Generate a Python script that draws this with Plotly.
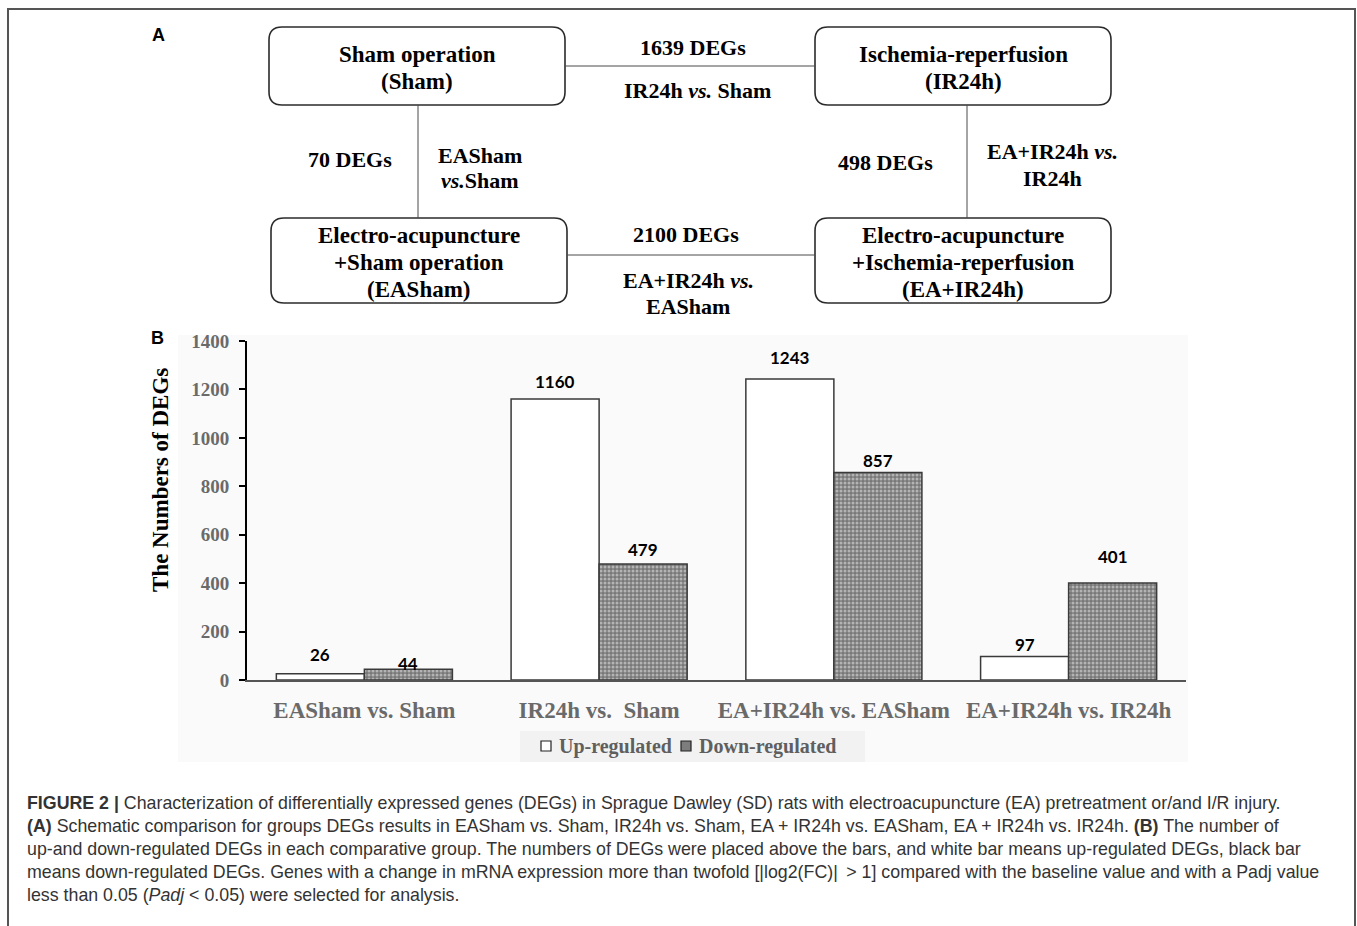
import plotly.graph_objects as go

W, H = 1357, 926

# ---- data -------------------------------------------------------------
comparisons = ["EASham vs. Sham", "IR24h vs.\u00a0 Sham",
               "EA+IR24h vs. EASham", "EA+IR24h vs. IR24h"]
up_regulated = [26, 1160, 1243, 97]
down_regulated = [44, 479, 857, 401]
y_ticks = [0, 200, 400, 600, 800, 1000, 1200, 1400]
series_names = ["Up-regulated", "Down-regulated"]

# panel A: group boxes and the comparison that links each pair
group_lines = {
    "Sham": ["Sham operation", "(Sham)"],
    "IR24h": ["Ischemia-reperfusion", "(IR24h)"],
    "EASham": ["Electro-acupuncture", "+Sham operation", "(EASham)"],
    "EA+IR24h": ["Electro-acupuncture", "+Ischemia-reperfusion", "(EA+IR24h)"],
}

# ---- helpers: pixel -> paper -------------------------------------------
def px(x):
    return x / W


def py(y):
    return 1 - y / H


SERIF = "Liberation Serif, Times New Roman, serif"
SANS = "Liberation Sans, Arial, sans-serif"
GREY_TXT = "#5f5f5f"
EDGE = "#3a3a3a"


def note(text, x, y, size, family=SERIF, color="black", anchor="center", **kw):
    d = dict(x=px(x), y=py(y), xref="paper", yref="paper", text=text,
             showarrow=False, xanchor=anchor, yanchor="middle",
             font=dict(family=family, size=size, color=color))
    d.update(kw)
    return d


fig = go.Figure()

fig.add_trace(go.Bar(
    x=comparisons, y=up_regulated, name=series_names[0],
    marker=dict(color="white", line=dict(color=EDGE, width=1.5)),
))
fig.add_trace(go.Bar(
    x=comparisons, y=down_regulated, name=series_names[1],
    marker=dict(color="#8a8a8a", line=dict(color=EDGE, width=1.5),
                pattern=dict(shape=".", fgcolor="#f0f0f0", bgcolor="#787878",
                             size=4, solidity=0.45)),
))

shapes = []
annotations = []

# faint panel behind chart B
shapes.append(dict(type="rect", xref="paper", yref="paper", layer="below",
                   x0=px(178), x1=px(1188), y0=py(762), y1=py(335),
                   fillcolor="#fafafa", line=dict(width=0)))
# outer frame
shapes.append(dict(type="rect", xref="paper", yref="paper",
                   x0=px(8), x1=px(1355), y0=py(940), y1=py(9),
                   line=dict(color="#555555", width=2)))

# value labels over the bars
label_lift = [[19, 18, 22, 12], [6, 15, 12, 26]]
for s, (vals, dx) in enumerate([(up_regulated, -44), (down_regulated, 44)]):
    for i, (cat, v) in enumerate(zip(comparisons, vals)):
        annotations.append(dict(
            x=cat, y=v, xref="x", yref="y", text=f"<b>{v}</b>",
            showarrow=False, xshift=dx, yshift=label_lift[s][i],
            xanchor="center", yanchor="middle",
            font=dict(family="Lato, Open Sans, sans-serif", size=17,
                      color="black")))

# y-axis title
annotations.append(note("<b>The Numbers of DEGs</b>", 160, 480, 23,
                        textangle=-90))

# panel letters
annotations.append(note("<b>A</b>", 158, 35, 18, family=SANS))
annotations.append(note("<b>B</b>", 157, 338, 18, family=SANS))

# legend: light strip with swatches and bold labels
shapes.append(dict(type="rect", xref="paper", yref="paper",
                   x0=px(520), x1=px(865), y0=py(762), y1=py(731),
                   fillcolor="#f2f2f2", line=dict(width=0)))
swatches = [(546, "white", 557), (686, "#7d7d7d", 697)]
for (sx, fill, tx), name in zip(swatches, series_names):
    shapes.append(dict(type="rect", xref="paper", yref="paper",
                       x0=px(sx - 5), x1=px(sx + 5), y0=py(751), y1=py(741),
                       fillcolor=fill, line=dict(color="#222222", width=1.2)))
    annotations.append(note(f"<b>{name}</b>", tx, 746, 20, color=GREY_TXT,
                            anchor="left"))

# ---- panel A diagram ----------------------------------------------------
boxes = {
    "Sham": (269, 27, 565, 105),
    "IR24h": (815, 27, 1111, 105),
    "EASham": (271, 218, 567, 303),
    "EA+IR24h": (815, 218, 1111, 303),
}


def rounded(x0, y0, x1, y1, r=13):
    X = [px(v) for v in (x0, x0 + r, x1 - r, x1)]
    Y = [py(v) for v in (y0, y0 + r, y1 - r, y1)]
    return (f"M{X[1]},{Y[0]} L{X[2]},{Y[0]} Q{X[3]},{Y[0]} {X[3]},{Y[1]} "
            f"L{X[3]},{Y[2]} Q{X[3]},{Y[3]} {X[2]},{Y[3]} "
            f"L{X[1]},{Y[3]} Q{X[0]},{Y[3]} {X[0]},{Y[2]} "
            f"L{X[0]},{Y[1]} Q{X[0]},{Y[0]} {X[1]},{Y[0]} Z")


for key, (x0, y0, x1, y1) in boxes.items():
    shapes.append(dict(type="path", xref="paper", yref="paper",
                       path=rounded(x0, y0, x1, y1),
                       line=dict(color="#2b2b2b", width=1.6)))
    lines = group_lines[key]
    cx = (x0 + x1) / 2
    ys = [54, 81] if len(lines) == 2 else [235, 262, 289]
    for t, yy in zip(lines, ys):
        annotations.append(note(f"<b>{t}</b>", cx, yy, 23))

connectors = [((565, 66), (815, 66)), ((567, 255), (815, 255)),
              ((418, 105), (418, 218)), ((967, 105), (967, 218))]
for (ax, ay), (bx, by) in connectors:
    shapes.append(dict(type="line", xref="paper", yref="paper",
                       x0=px(ax), y0=py(ay), x1=px(bx), y1=py(by),
                       line=dict(color="#4a4a4a", width=1)))

totals = [u + d for u, d in zip(up_regulated, down_regulated)]
edge_text = [
    (f"{totals[1]} DEGs", 693, 47),
    ("IR24h <i>vs.</i> Sham", 697, 90),
    (f"{totals[2]} DEGs", 686, 234),
    ("EA+IR24h <i>vs.</i>", 688, 280),
    ("EASham", 688, 306),
    (f"{totals[0]} DEGs", 350, 159),
    ("EASham", 480, 155),
    ("<i>vs.</i>Sham", 480, 181),
    (f"{totals[3]} DEGs", 885, 163),
    ("EA+IR24h <i>vs.</i>", 1052, 152),
    ("IR24h", 1052, 179),
]
for t, x, y in edge_text:
    annotations.append(note(f"<b>{t}</b>", x, y, 22))

# ---- caption ------------------------------------------------------------
caption = [
    "<b>FIGURE 2 |</b> Characterization of differentially expressed genes (DEGs) in Sprague Dawley (SD) rats with electroacupuncture (EA) pretreatment or/and I/R injury.",
    "<b>(A)</b> Schematic comparison for groups DEGs results in EASham vs. Sham, IR24h vs. Sham, EA + IR24h vs. EASham, EA + IR24h vs. IR24h. <b>(B)</b> The number of",
    "up-and down-regulated DEGs in each comparative group. The numbers of DEGs were placed above the bars, and white bar means up-regulated DEGs, black bar",
    "means down-regulated DEGs. Genes with a change in mRNA expression more than twofold [|log2(FC)| \u2009&gt; 1] compared with the baseline value and with a Padj value",
    "less than 0.05 (<i>Padj</i> &lt; 0.05) were selected for analysis.",
]
for i, line in enumerate(caption):
    annotations.append(note(line, 25, 803 + 23 * i, 17.8, family=SANS,
                            color="#333333", anchor="left"))

fig.update_layout(
    width=W, height=H, autosize=False,
    margin=dict(l=0, r=0, t=0, b=0, pad=0),
    paper_bgcolor="white", plot_bgcolor="rgba(0,0,0,0)",
    barmode="group", bargap=0.25, bargroupgap=0,
    shapes=shapes, annotations=annotations,
    showlegend=False,
    xaxis=dict(domain=[px(247), px(1186)], showline=True, linecolor="#555555",
               linewidth=2, ticks="", showgrid=False, automargin=False,
               tickfont=dict(family=SERIF, size=23, color="#6a6a6a",
                             weight="bold"),
               ticklabelstandoff=8),
    yaxis=dict(domain=[py(680), py(341)], range=[0, 1400], tickvals=y_ticks,
               showline=True, linecolor="black", linewidth=2, ticks="outside",
               ticklen=6, tickcolor="black", tickwidth=2, showgrid=False,
               zeroline=False, automargin=False,
               tickfont=dict(family=SERIF, size=19, color="#6a6a6a",
                             weight="bold"),
               ticklabelstandoff=6),
)

fig.write_html("out.html", post_script="document.body.style.margin='0';")
